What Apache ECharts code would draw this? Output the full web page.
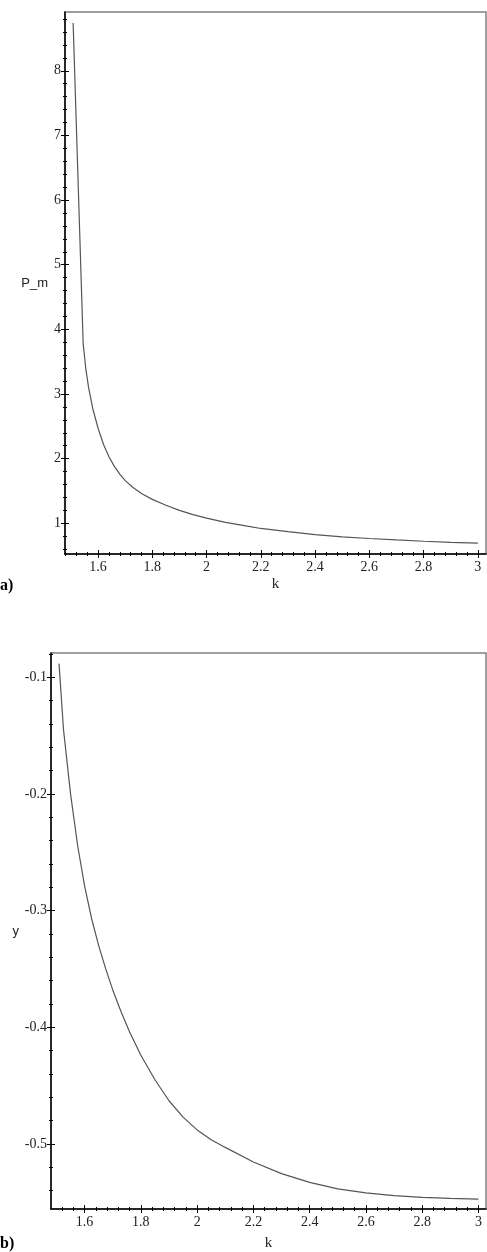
<!DOCTYPE html>
<html>
<head>
<meta charset="utf-8">
<script src="https://cdn.jsdelivr.net/npm/echarts@6/dist/echarts.min.js"></script>
<style>
  html, body { margin: 0; padding: 0; background: #fff; }
  #chart { width: 487px; height: 1252px; }
</style>
</head>
<body>
<div id="chart"></div>
<script>
// panel a): P_m against k
const kA = [1.508, 1.545, 1.555, 1.565, 1.58, 1.60, 1.62, 1.64, 1.66, 1.68, 1.70, 1.73, 1.76, 1.80, 1.85, 1.90, 1.95, 2.0, 2.07, 2.15, 2.2, 2.3, 2.4, 2.5, 2.6, 2.7, 2.8, 2.9, 3.0]
const pmA = [8.74, 3.78, 3.38, 3.10, 2.78, 2.47, 2.22, 2.03, 1.88, 1.76, 1.66, 1.55, 1.46, 1.37, 1.28, 1.20, 1.135, 1.08, 1.015, 0.955, 0.92, 0.87, 0.825, 0.79, 0.765, 0.742, 0.722, 0.705, 0.692]

// panel b): y against k
const kB = [1.509, 1.525, 1.55, 1.575, 1.60, 1.625, 1.65, 1.675, 1.70, 1.73, 1.76, 1.80, 1.85, 1.90, 1.95, 2.0, 2.05, 2.1, 2.2, 2.3, 2.4, 2.5, 2.6, 2.7, 2.8, 2.9, 3.0]
const yB = [-0.0883, -0.145, -0.200, -0.244, -0.279, -0.307, -0.330, -0.350, -0.368, -0.387, -0.404, -0.424, -0.445, -0.463, -0.477, -0.488, -0.4965, -0.503, -0.5155, -0.5255, -0.533, -0.5385, -0.542, -0.5443, -0.5458, -0.5467, -0.5473]

// tick labels
const kTicks = [1.6, 1.8, 2, 2.2, 2.4, 2.6, 2.8, 3]
const pmTicks = [1, 2, 3, 4, 5, 6, 7, 8]
const yTicks = [-0.5, -0.4, -0.3, -0.2, -0.1]

const serif = '"Liberation Serif", "DejaVu Serif", serif'
const sans = '"Liberation Sans", Arial, sans-serif'

// minor ticks: 5 subdivisions between the major ones, kept inside [lo, hi]
const minorTicks = (major, step, lo, hi) => {
  const out = []
  const first = major[0]
  for (let i = -200; i <= 200; i++) {
    const v = Math.round((first + i * step) * 10000) / 10000
    if (v >= lo && v <= hi) out.push(v)
  }
  return out
}

// one axis drawn four times: major/minor ticks, outward and inward (crossing ticks)
const makeAxes = (grid, pos, min, max, major, minor, main) => {
  const base = {
    type: 'value', gridIndex: grid, position: pos, min: min, max: max,
    splitLine: { show: false },
    axisLine: { show: false, onZero: false },
    axisLabel: { show: false }
  }
  const specs = [[major, 4, false], [major, 4, true], [minor, 2, false], [minor, 2, true]]
  const list = specs.map(([vals, len, inside]) => Object.assign({}, base, {
    axisTick: { show: true, inside: inside, length: len, customValues: vals, lineStyle: { color: '#000', width: 1 } }
  }))
  Object.assign(list[0], main)
  return list
}

const labelStyle = (vals) => ({
  show: true, customValues: vals, color: '#222', fontFamily: serif, fontSize: 14,
  formatter: (v) => String(v)
})
const lineBlack = { show: true, onZero: false, lineStyle: { color: '#000', width: 1.5 } }

const xA = [1.478, 3.03]
const yA = [0.525, 8.91]
const xB = [1.4805, 3.027]
const yBr = [-0.5558, -0.0792]

const xAxes = [
  ...makeAxes(0, 'bottom', xA[0], xA[1], kTicks, minorTicks(kTicks, 0.04, xA[0], xA[1]), {
    axisLine: lineBlack, axisLabel: Object.assign(labelStyle(kTicks), { margin: 6 }),
    name: 'k', nameLocation: 'middle', nameGap: 23,
    nameTextStyle: { fontFamily: serif, fontSize: 15, color: '#222' }
  }),
  ...makeAxes(1, 'bottom', xB[0], xB[1], kTicks, minorTicks(kTicks, 0.04, xB[0], xB[1]), {
    axisLine: lineBlack, axisLabel: Object.assign(labelStyle(kTicks), { margin: 6 }),
    name: 'k', nameLocation: 'middle', nameGap: 27,
    nameTextStyle: { fontFamily: serif, fontSize: 15, color: '#222' }
  })
]

const yAxes = [
  ...makeAxes(0, 'left', yA[0], yA[1], pmTicks, minorTicks(pmTicks, 0.2, yA[0], yA[1]), {
    axisLine: lineBlack, axisLabel: Object.assign(labelStyle(pmTicks), { margin: 4 }),
    name: 'P_m', nameLocation: 'middle', nameRotate: 0, nameGap: 17,
    nameTextStyle: { fontFamily: sans, fontSize: 13, color: '#222' }
  }),
  ...makeAxes(1, 'left', yBr[0], yBr[1], yTicks, minorTicks(yTicks, 0.02, yBr[0], yBr[1]), {
    axisLine: lineBlack, axisLabel: Object.assign(labelStyle(yTicks), { margin: 4 }),
    name: 'y', nameLocation: 'middle', nameRotate: 0, nameGap: 19,
    nameTextStyle: { fontFamily: sans, fontSize: 13, color: '#222' }
  })
]

const chart = echarts.init(document.getElementById('chart'))

chart.setOption({
  animation: false,
  backgroundColor: '#fff',
  grid: [
    { left: 65, right: 1, top: 12, height: 542, show: true, borderColor: '#808080', borderWidth: 1.5 },
    { left: 51, right: 1, top: 653, height: 560, show: true, borderColor: '#808080', borderWidth: 1.5 }
  ],
  xAxis: xAxes,
  yAxis: yAxes,
  graphic: [
    { type: 'text', left: 0, top: 578, style: { text: 'a)', font: 'bold 16px ' + serif, fill: '#000' } },
    { type: 'text', left: 0, top: 1236, style: { text: 'b)', font: 'bold 16px ' + serif, fill: '#000' } }
  ],
  series: [
    {
      type: 'line', xAxisIndex: 0, yAxisIndex: 0, symbol: 'none', smooth: false,
      lineStyle: { color: '#555', width: 1.2 },
      data: kA.map((k, i) => [k, pmA[i]])
    },
    {
      type: 'line', xAxisIndex: 4, yAxisIndex: 4, symbol: 'none', smooth: false,
      lineStyle: { color: '#555', width: 1.2 },
      data: kB.map((k, i) => [k, yB[i]])
    }
  ]
})
</script>
</body>
</html>
